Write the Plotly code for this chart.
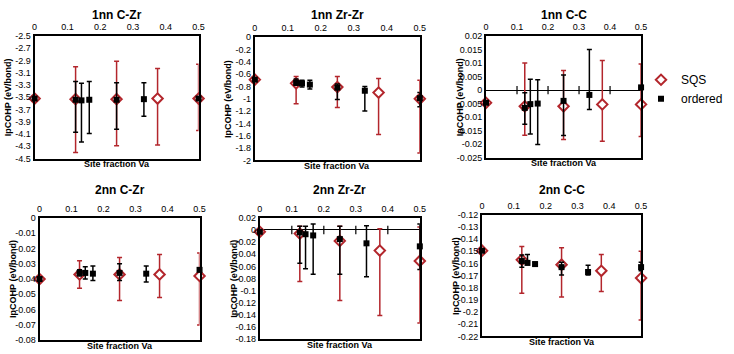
import plotly.graph_objects as go

# ---------------- data ----------------
sqs_x = [0, 0.125, 0.25, 0.375, 0.5]
ord_x = [0, 0.125, 0.1429, 0.1667, 0.25, 0.3333, 0.5]

titles = ["1nn C-Zr", "1nn Zr-Zr", "1nn C-C", "2nn C-Zr", "2nn Zr-Zr", "2nn C-C"]

# SQS values, upper and lower ends of error bars
sqs_y = [
    [-3.52, -3.53, -3.53, -3.52, -3.52],
    [-0.69, -0.75, -0.81, -0.90, -1.00],
    [-0.0047, -0.006, -0.006, -0.0053, -0.0053],
    [-0.040, -0.037, -0.037, -0.037, -0.038],
    [-0.003, -0.006, -0.018, -0.034, -0.051],
    [-0.1495, -0.157, -0.161, -0.166, -0.172],
]
sqs_hi = [
    [-3.52, -3.00, -2.91, -3.03, -2.96],
    [-0.69, -0.64, -0.64, -0.67, -0.70],
    [-0.0047, 0.0100, 0.0073, 0.0110, 0.0097],
    [-0.040, -0.028, -0.026, -0.024, -0.023],
    [-0.003, 0.006, 0.006, 0.002, 0.005],
    [-0.1495, -0.146, -0.147, -0.1525, -0.150],
]
sqs_lo = [
    [-3.52, -4.40, -4.29, -4.28, -4.04],
    [-0.69, -1.08, -1.14, -1.58, -1.88],
    [-0.0047, -0.0167, -0.0183, -0.0190, -0.0172],
    [-0.040, -0.046, -0.054, -0.052, -0.070],
    [-0.003, -0.085, -0.116, -0.141, -0.153],
    [-0.1495, -0.1845, -0.1875, -0.183, -0.2065],
]

ord_y = [
    [-3.52, -3.54, -3.55, -3.54, -3.54, -3.53, -3.52],
    [-0.69, -0.74, -0.75, -0.77, -0.82, -0.87, -0.99],
    [-0.0047, -0.0066, -0.0052, -0.0050, -0.0040, -0.0018, 0.0010],
    [-0.040, -0.036, -0.036, -0.0365, -0.036, -0.0365, -0.034],
    [-0.003, -0.004, -0.007, -0.009, -0.015, -0.022, -0.027],
    [-0.1495, -0.158, -0.1595, -0.1605, -0.163, -0.167, -0.163],
]
ord_hi = [
    [-3.52, -3.24, -3.27, -3.24, -3.26, -3.26, -3.52],
    [-0.69, -0.68, -0.70, -0.70, -0.76, -0.80, -0.90],
    [-0.0047, -0.0010, 0.0040, 0.0038, 0.0056, 0.0150, 0.0010],
    [-0.040, -0.034, -0.032, -0.0315, -0.030, -0.0315, -0.034],
    [-0.003, 0.006, 0.006, 0.010, 0.006, 0.007, 0.010],
    [-0.1495, -0.153, -0.1525, -0.159, -0.159, -0.1615, -0.159],
]
ord_lo = [
    [-3.52, -4.07, -4.23, -4.09, -4.02, -3.81, -3.52],
    [-0.69, -0.78, -0.81, -0.84, -1.01, -1.20, -1.13],
    [-0.0047, -0.0127, -0.0163, -0.0202, -0.0168, -0.0072, 0.0010],
    [-0.040, -0.038, -0.040, -0.041, -0.041, -0.042, -0.034],
    [-0.003, -0.055, -0.064, -0.073, -0.073, -0.077, -0.065],
    [-0.1495, -0.163, -0.161, -0.1615, -0.1695, -0.1695, -0.166],
]

y_ticks = [
    ["-2.5", "-2.7", "-2.9", "-3.1", "-3.3", "-3.5", "-3.7", "-3.9", "-4.1", "-4.3", "-4.5"],
    ["0", "-0.2", "-0.4", "-0.6", "-0.8", "-1", "-1.2", "-1.4", "-1.6", "-1.8", "-2"],
    ["0.02", "0.015", "0.01", "0.005", "0", "-0.005", "-0.01", "-0.015", "-0.02", "-0.025"],
    ["0", "-0.01", "-0.02", "-0.03", "-0.04", "-0.05", "-0.06", "-0.07", "-0.08"],
    ["0.02", "0", "-0.02", "-0.04", "-0.06", "-0.08", "-0.1", "-0.12", "-0.14", "-0.16", "-0.18"],
    ["-0.12", "-0.13", "-0.14", "-0.15", "-0.16", "-0.17", "-0.18", "-0.19", "-0.2", "-0.21", "-0.22"],
]
x_ticks = ["0", "0.1", "0.2", "0.3", "0.4", "0.5"]
zero_axis = [False, False, True, False, True, False]

# ---------------- layout geometry (pixels) ----------------
W, H = 734, 354
boxes = [  # left, right, top, bottom
    (32, 198, 32, 158),
    (255, 422, 33, 160),
    (489, 646, 32, 157),
    (37, 199, 219, 345),
    (260, 422, 219, 344),
    (485, 646, 216, 341),
]
title_y = [10, 10, 10, 190, 190, 190]

RED = "#B3262C"
FONT = "Liberation Sans, Arial, sans-serif"

fig = go.Figure()
layout = dict(
    width=W, height=H, margin=dict(l=0, r=0, t=0, b=0),
    paper_bgcolor="white", plot_bgcolor="white",
    font=dict(family=FONT, color="black", size=9),
    showlegend=True,
    legend=dict(x=1, y=1 - 62 / H, xanchor="right", yanchor="top",
                font=dict(size=12, family=FONT), bgcolor="rgba(0,0,0,0)",
                itemwidth=30, tracegroupgap=0),
)
annotations = []

for i in range(6):
    l, r, t, b = boxes[i]
    n = "" if i == 0 else str(i + 1)
    xa = "x" + n
    ya = "y" + n
    yvals = [float(s) for s in y_ticks[i]]
    xvals = [float(s) for s in x_ticks]
    layout["xaxis" + n] = dict(
        domain=[l / W, r / W], range=[0, 0.5], side="top",
        tickvals=xvals, ticktext=x_ticks, ticks="", showgrid=False,
        zeroline=False, showline=True, mirror=True, linecolor="black", linewidth=2,
        tickfont=dict(size=9, family=FONT), anchor=ya,
    )
    layout["yaxis" + n] = dict(
        domain=[1 - b / H, 1 - t / H], range=[min(yvals), max(yvals)],
        tickvals=yvals, ticktext=y_ticks[i], ticks="", showgrid=False,
        zeroline=zero_axis[i], zerolinecolor="black", zerolinewidth=1.2,
        showline=True, mirror=True, linecolor="black", linewidth=2,
        tickfont=dict(size=9, family=FONT), anchor=xa,
    )

    if zero_axis[i]:
        fig.add_trace(go.Scatter(
            x=xvals[1:-1], y=[0] * (len(xvals) - 2), mode="markers", xaxis=xa, yaxis=ya,
            marker=dict(symbol="line-ns-open", size=6, color="black",
                        line=dict(color="black", width=1.2)),
            showlegend=False, hoverinfo="skip", cliponaxis=False,
        ))

    sy = sqs_y[i]
    fig.add_trace(go.Scatter(
        x=sqs_x, y=sy, mode="markers", name="SQS", xaxis=xa, yaxis=ya,
        legendgroup="SQS", showlegend=(i == 0), cliponaxis=False,
        marker=dict(symbol="diamond", size=8, color="white", line=dict(color=RED, width=2)),
        error_y=dict(type="data", symmetric=False,
                     array=[h - v for h, v in zip(sqs_hi[i], sy)],
                     arrayminus=[v - lo for lo, v in zip(sqs_lo[i], sy)],
                     color=RED, thickness=1.5, width=2.5),
    ))
    oy = ord_y[i]
    fig.add_trace(go.Scatter(
        x=ord_x, y=oy, mode="markers", name="ordered", xaxis=xa, yaxis=ya,
        legendgroup="ordered", showlegend=(i == 0), cliponaxis=False,
        marker=dict(symbol="square", size=6, color="black", line=dict(width=0)),
        error_y=dict(type="data", symmetric=False,
                     array=[h - v for h, v in zip(ord_hi[i], oy)],
                     arrayminus=[v - lo for lo, v in zip(ord_lo[i], oy)],
                     color="black", thickness=1.5, width=2.5),
    ))

    cx = (l + r) / 2
    annotations.append(dict(
        text="<b>" + titles[i] + "</b>", x=cx / W, y=1 - title_y[i] / H,
        xref="paper", yref="paper", showarrow=False, font=dict(size=12, family=FONT),
        xanchor="center", yanchor="middle"))
    annotations.append(dict(
        text="<b>Site fraction Va</b>", x=cx / W, y=1 - (b + 6) / H,
        xref="paper", yref="paper", showarrow=False, font=dict(size=9, family=FONT),
        xanchor="center", yanchor="middle"))
    annotations.append(dict(
        text="<b>IpCOHP (eV/bond)</b>", x=(l - 27) / W, y=1 - ((t + b) / 2) / H,
        xref="paper", yref="paper", showarrow=False, textangle=-90,
        font=dict(size=9, family=FONT), xanchor="center", yanchor="middle"))

layout["annotations"] = annotations
fig.update_layout(**layout)
fig.write_html("out.html", config={"displayModeBar": False},
               post_script="document.body.style.margin='0px';document.body.style.padding='0px';")
